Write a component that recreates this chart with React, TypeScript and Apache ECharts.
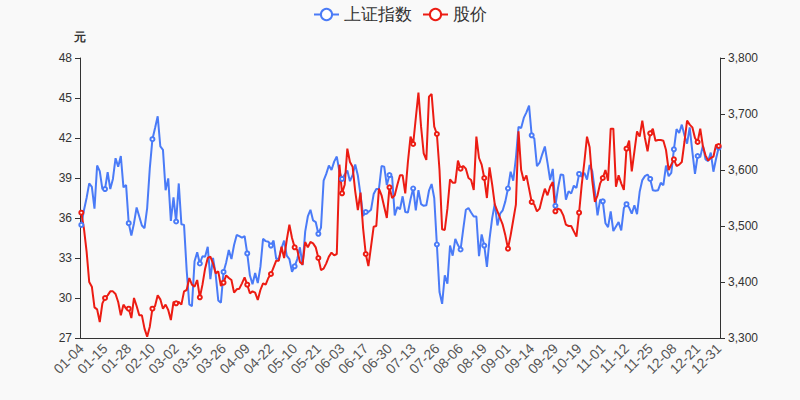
import React, { useEffect, useRef } from "react";
import * as echarts from "echarts";

const dates: string[] = [
  "01-04","01-05","01-06","01-07","01-08","01-11","01-12","01-13","01-14","01-15","01-18","01-19","01-20","01-21","01-22","01-25","01-26","01-27","01-28","01-29",
  "02-01","02-02","02-03","02-04","02-05","02-08","02-09","02-10","02-18","02-19","02-22","02-23","02-24","02-25","02-26",
  "03-01","03-02","03-03","03-04","03-05","03-08","03-09","03-10","03-11","03-12","03-15","03-16","03-17","03-18","03-19","03-22","03-23","03-24","03-25","03-26","03-29","03-30","03-31",
  "04-01","04-02","04-06","04-07","04-08","04-09","04-12","04-13","04-14","04-15","04-16","04-19","04-20","04-21","04-22","04-23","04-26","04-27","04-28","04-29","04-30",
  "05-06","05-07","05-10","05-11","05-12","05-13","05-14","05-17","05-18","05-19","05-20","05-21","05-24","05-25","05-26","05-27","05-28","05-31",
  "06-01","06-02","06-03","06-04","06-07","06-08","06-09","06-10","06-11","06-15","06-16","06-17","06-18","06-21","06-22","06-23","06-24","06-25","06-28","06-29","06-30",
  "07-01","07-02","07-05","07-06","07-07","07-08","07-09","07-12","07-13","07-14","07-15","07-16","07-19","07-20","07-21","07-22","07-23","07-26","07-27","07-28","07-29","07-30",
  "08-02","08-03","08-04","08-05","08-06","08-09","08-10","08-11","08-12","08-13","08-16","08-17","08-18","08-19","08-20","08-23","08-24","08-25","08-26","08-27","08-30","08-31",
  "09-01","09-02","09-03","09-06","09-07","09-08","09-09","09-10","09-13","09-14","09-15","09-16","09-17","09-22","09-23","09-24","09-27","09-28","09-29","09-30",
  "10-08","10-11","10-12","10-13","10-14","10-15","10-18","10-19","10-20","10-21","10-22","10-25","10-26","10-27","10-28","10-29",
  "11-01","11-02","11-03","11-04","11-05","11-08","11-09","11-10","11-11","11-12","11-15","11-16","11-17","11-18","11-19","11-22","11-23","11-24","11-25","11-26","11-29","11-30",
  "12-01","12-02","12-03","12-06","12-07","12-08","12-09","12-10","12-13","12-14","12-15","12-16","12-17","12-20","12-21","12-22","12-23","12-24","12-27","12-28","12-29","12-30","12-31"
];

const indexValues: number[] = [
  3502,3528,3550,3576,3570,3531,3608,3598,3566,3566,3596,3566,3584,3621,3606,3625,3569,3573,3505,3483,
  3505,3533,3517,3501,3496,3532,3603,3655,3675,3696,3642,3636,3564,3585,3509,
  3551,3508,3576,3503,3502,3421,3360,3357,3437,3453,3433,3446,3445,3463,3405,3443,3414,3367,3363,3418,3435,3457,3441,
  3466,3484,3482,3479,3482,3451,3412,3396,3416,3398,3427,3477,3473,3472,3465,3474,3441,3442,3460,3474,3447,
  3441,3418,3428,3441,3462,3430,3490,3517,3529,3510,3507,3486,3497,3581,3593,3608,3600,3615,
  3624,3597,3584,3592,3599,3580,3591,3610,3590,3556,3518,3525,3525,3529,3557,3566,3566,3607,3606,3573,3591,
  3588,3519,3534,3530,3553,3525,3524,3548,3567,3528,3564,3539,3536,3537,3563,3575,3550,3467,3382,3361,3412,3397,
  3465,3447,3477,3466,3458,3494,3529,3532,3524,3517,3517,3446,3485,3465,3427,3477,3514,3540,3501,3522,3528,3544,
  3567,3597,3581,3621,3677,3675,3693,3703,3715,3662,3656,3607,3613,3628,3642,3613,3582,3602,3536,3568,
  3592,3591,3547,3562,3558,3572,3568,3593,3588,3595,3583,3609,3598,3562,3519,3547,
  3544,3505,3498,3526,3491,3499,3507,3492,3532,3539,3533,3522,3537,3521,3561,3582,3589,3592,3584,3564,3563,3564,
  3577,3573,3608,3589,3595,3637,3673,3666,3681,3662,3647,3676,3633,3593,3625,3623,3644,3619,3616,3631,3597,3620,3640
];

const priceValues: number[] = [
  36.4,35.2,33.5,31.2,30.85,29.3,29.15,28.2,29.6,30.0,
  30.2,30.5,30.5,30.3,29.7,28.7,29.5,29.2,29.2,28.5,
  30.0,29.4,28.7,28.7,27.7,27.1,27.85,29.2,29.4,30.2,
  29.9,29.2,29.5,29.1,28.35,29.7,29.6,29.7,29.5,30.5,
  30.6,31.5,31.0,30.85,31.35,30.05,31.0,32.2,33.0,33.1,
  32.6,31.85,32.0,30.9,31.15,31.7,31.5,31.35,30.4,30.65,
  30.7,31.1,31.55,31.0,30.35,30.5,30.4,29.85,30.6,31.1,
  31.0,31.5,31.8,32.3,32.8,32.8,33.85,33.0,34.35,35.5,
  34.5,33.8,33.6,32.7,32.5,34.2,33.8,34.2,34.1,33.8,
  33.0,32.1,32.2,32.6,33.1,33.4,33.2,33.3,40.0,37.85,
  38.5,41.2,40.2,39.85,38.0,36.6,37.9,35.2,33.3,32.4,
  33.85,35.35,35.4,38.2,37.7,36.85,36.0,38.3,37.5,37.7,
  38.5,39.2,39.2,37.85,40.2,42.1,41.55,43.5,45.4,42.85,
  40.85,40.35,45.1,45.3,42.85,42.3,39.6,35.15,35.1,36.7,
  38.9,38.65,38.65,40.3,39.7,39.9,39.7,39.0,38.85,38.1,
  42.1,40.5,40.0,39.0,37.5,39.8,38.5,37.0,36.5,36.0,
  35.5,34.7,33.7,34.7,35.85,37.0,42.5,39.6,38.8,39.2,
  38.2,37.2,37.0,36.5,36.7,37.5,38.2,37.7,38.35,38.7,
  36.5,36.7,36.6,36.2,35.5,35.4,35.4,35.0,34.6,36.4,
  38.5,40.2,42.1,41.3,38.8,37.2,37.7,38.6,39.0,39.6,
  38.8,42.7,42.7,38.35,39.2,38.6,38.1,41.2,41.8,39.5,
  41.0,42.5,42.1,43.3,42.0,41.0,42.35,42.7,41.8,41.85,
  41.85,41.8,41.1,39.6,40.0,40.4,39.9,40.0,40.2,41.7,
  43.3,43.0,42.8,42.0,41.7,42.7,41.4,40.7,40.3,40.5,
  40.6,41.5,41.4
];

const seriesNames = ["上证指数", "股价"];
const leftUnit = "元";

export default function App() {
  const ref = useRef<HTMLDivElement>(null);
  useEffect(() => {
    document.body.style.margin = "0";
    if (!ref.current) return;
    const chart = echarts.init(ref.current, null, { renderer: "svg" });
    chart.setOption({
      animation: false,
      backgroundColor: "#f9f9f9",
      color: ["#4a7bf7", "#ec1c13"],
      legend: {
        top: 1,
        left: "center",
        itemWidth: 25,
        itemHeight: 14,
        itemGap: 10,
        textStyle: { fontSize: 17, color: "#333" },
        data: seriesNames,
      },
      grid: { left: 80, right: 80, top: 58, bottom: 62 },
      xAxis: {
        type: "category",
        data: dates,
        axisLine: { lineStyle: { color: "#333" } },
        axisTick: { lineStyle: { color: "#333" } },
        axisLabel: {
          rotate: 45,
          interval: 8,
          showMaxLabel: true,
          color: "#555",
          fontSize: 14,
        },
      },
      yAxis: [
        {
          type: "value",
          name: leftUnit,
          nameTextStyle: { fontWeight: "bold", color: "#333" },
          min: 27,
          max: 48,
          interval: 3,
          position: "left",
          axisLine: { show: true, lineStyle: { color: "#333" } },
          axisTick: { show: true },
          splitLine: { show: false },
          axisLabel: { color: "#333", fontSize: 12 },
        },
        {
          type: "value",
          min: 3300,
          max: 3800,
          interval: 100,
          position: "right",
          axisLine: { show: true, lineStyle: { color: "#333" } },
          axisTick: { show: true },
          splitLine: { show: false },
          axisLabel: {
            color: "#333",
            fontSize: 12,
            formatter: (v: number) => v.toLocaleString("en-US"),
          },
        },
      ],
      series: [
        {
          name: seriesNames[0],
          type: "line",
          yAxisIndex: 1,
          data: indexValues,
          symbol: "emptyCircle",
          symbolSize: 4,
          lineStyle: { width: 2 },
        },
        {
          name: seriesNames[1],
          type: "line",
          yAxisIndex: 0,
          data: priceValues,
          symbol: "emptyCircle",
          symbolSize: 4,
          lineStyle: { width: 2 },
        },
      ],
    });
    return () => chart.dispose();
  }, []);
  return <div ref={ref} style={{ width: 800, height: 400 }} />;
}
